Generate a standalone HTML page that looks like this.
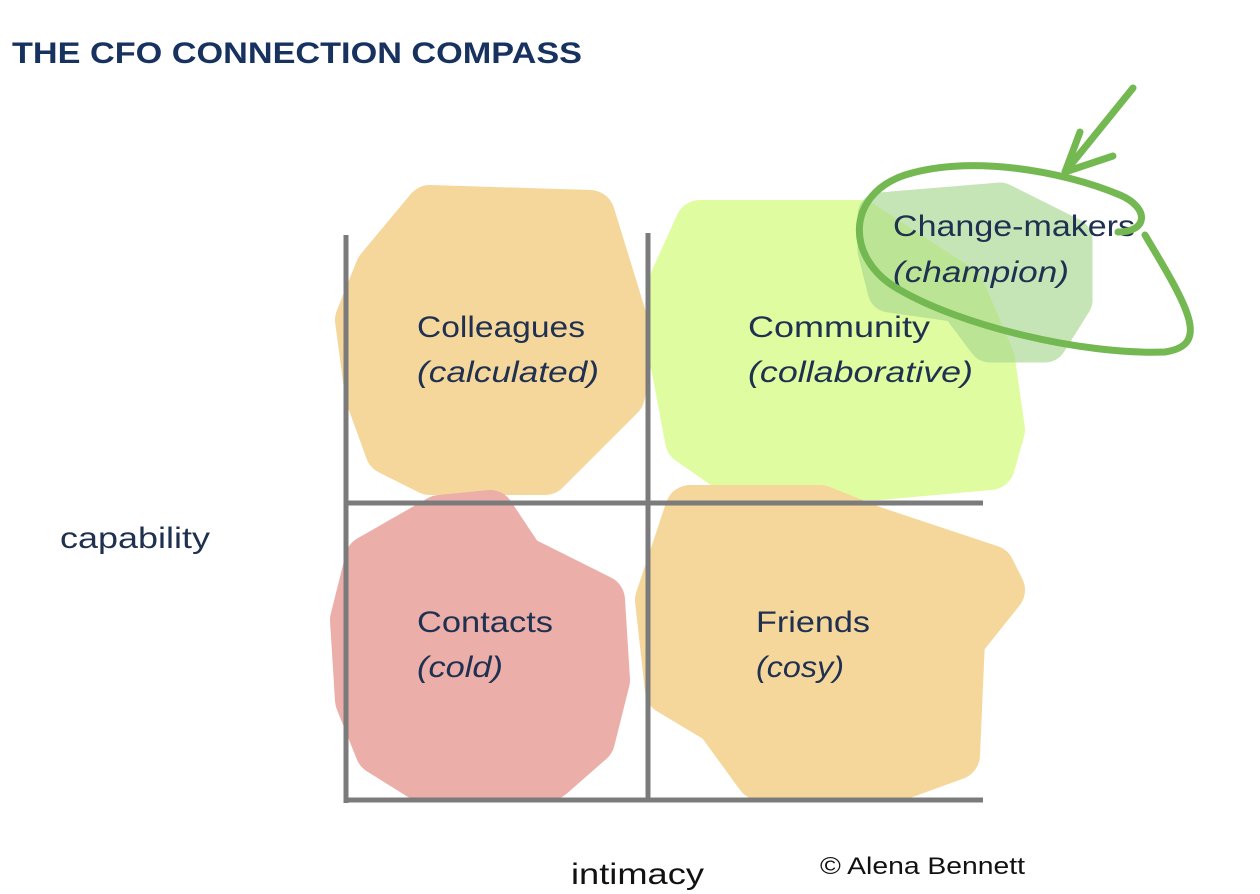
<!DOCTYPE html>
<html><head><meta charset="utf-8"><style>
html,body{margin:0;padding:0;background:#fff;}
svg{display:block;}
text{font-family:"Liberation Sans",sans-serif;}
</style></head><body>
<svg width="1260" height="894" viewBox="0 0 1260 894" xmlns="http://www.w3.org/2000/svg">
<text x="12" y="63" font-size="30" font-weight="bold" fill="#17325f" textLength="570" lengthAdjust="spacingAndGlyphs">THE CFO CONNECTION COMPASS</text>
<g stroke-linejoin="round" stroke-linecap="round">
<polygon points="430,210 590,215 610,280 630,345 620,395 545,470 430,470 390,450 370,395 360,320 380,270" fill="#f5d79b" stroke="#f5d79b" stroke-width="50"/>
<polygon points="700,225 860,225 960,290 990,360 1000,430 990,465 880,475 740,475 690,440 675,360 675,280" fill="#e0fca0" stroke="#e0fca0" stroke-width="50"/>
<g opacity="0.65">
<polygon points="880,215 1000,205 1070,240 1070,300 1045,340 990,340 960,300 890,290 880,250" fill="#a8d890" stroke="#a8d890" stroke-width="45"/>
</g>
<polygon points="440,520 490,515 520,560 600,600 605,680 590,740 550,775 420,775 380,750 360,700 355,620 370,560" fill="#ecaea8" stroke="#ecaea8" stroke-width="50"/>
<polygon points="690,510 820,510 870,530 990,570 1000,590 960,640 955,755 900,775 760,775 720,720 670,690 660,600 680,540" fill="#f5d79b" stroke="#f5d79b" stroke-width="50"/>
</g>
<g stroke="#7b7b7b" stroke-width="5" fill="none">
<line x1="346" y1="235" x2="346" y2="803"/>
<line x1="648" y1="233" x2="648" y2="800"/>
<line x1="346" y1="503" x2="983" y2="503"/>
<line x1="344" y1="800" x2="983" y2="800"/>
</g>
<g fill="#1f3050" font-size="30">
<text x="417" y="337" textLength="168" lengthAdjust="spacingAndGlyphs">Colleagues</text>
<text x="417" y="382" font-style="italic" textLength="182" lengthAdjust="spacingAndGlyphs">(calculated)</text>
<text x="748" y="337" textLength="182" lengthAdjust="spacingAndGlyphs">Community</text>
<text x="748" y="382" font-style="italic" textLength="225" lengthAdjust="spacingAndGlyphs">(collaborative)</text>
<text x="893" y="236" textLength="242" lengthAdjust="spacingAndGlyphs">Change-makers</text>
<text x="893" y="282" font-style="italic" textLength="176" lengthAdjust="spacingAndGlyphs">(champion)</text>
<text x="417" y="632" textLength="136" lengthAdjust="spacingAndGlyphs">Contacts</text>
<text x="417" y="677" font-style="italic" textLength="86" lengthAdjust="spacingAndGlyphs">(cold)</text>
<text x="756" y="632" textLength="114" lengthAdjust="spacingAndGlyphs">Friends</text>
<text x="756" y="677" font-style="italic" textLength="88" lengthAdjust="spacingAndGlyphs">(cosy)</text>
</g>
<text x="60" y="548" font-size="30" fill="#1f3050" textLength="150" lengthAdjust="spacingAndGlyphs">capability</text>
<text x="571" y="884" font-size="30" fill="#111" textLength="133" lengthAdjust="spacingAndGlyphs">intimacy</text>
<text x="820" y="874" font-size="24" fill="#111" textLength="205" lengthAdjust="spacingAndGlyphs">© Alena Bennett</text>
<g stroke="#74b852" stroke-width="7" fill="none" stroke-linecap="round" stroke-linejoin="round">
<path d="M1118,232 C1148,232 1150,208 1120,195 C1060,170 970,155 905,175 C845,195 845,260 900,290 C960,325 1080,355 1165,352 C1210,345 1190,310 1145,235"/>
<path d="M1133,88 L1065,172"/>
<path d="M1080,132 L1065,172 L1113,156"/>
</g>
</svg>
</body></html>
